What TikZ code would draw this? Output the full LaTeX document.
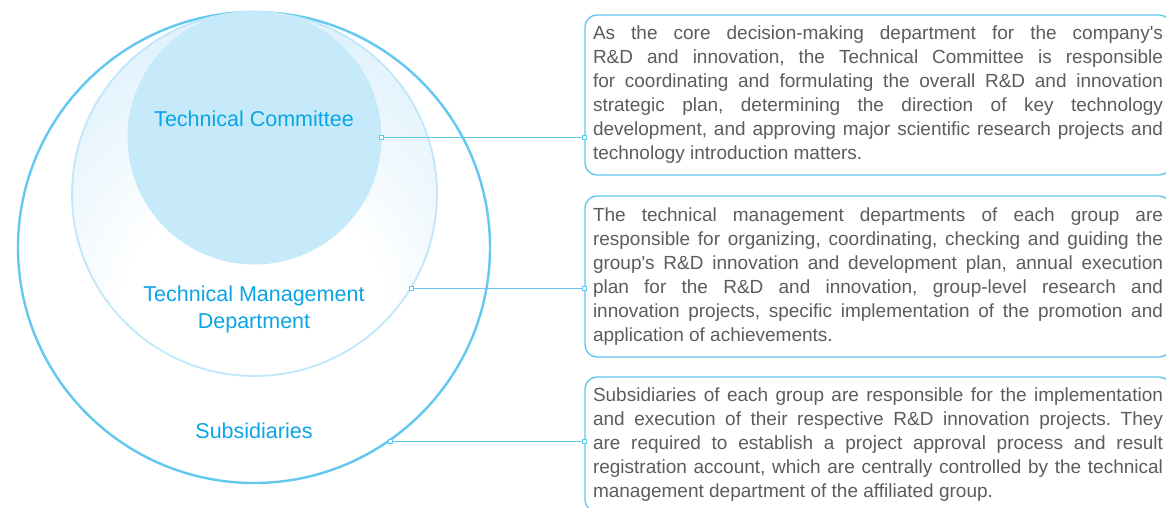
\documentclass[tikz,border=0pt]{standalone}
\usepackage{fontspec}
\setmainfont{Liberation Sans}[Ligatures=TeXOff]
\usetikzlibrary{shapes.geometric,positioning}
\definecolor{ringblue}{RGB}{98,200,240}
\definecolor{paleblue}{RGB}{192,231,250}
\definecolor{coreblue}{RGB}{198,234,249}
\definecolor{glowblue}{RGB}{214,237,251}
\definecolor{labelblue}{RGB}{10,165,230}
\definecolor{bodygray}{RGB}{92,92,92}
\pgfdeclareradialshading{tmdglow}{\pgfpoint{0bp}{-22bp}}{color(0bp)=(white);color(18bp)=(white);color(44bp)=(glowblue);color(90bp)=(glowblue)}
\frenchspacing

\begin{document}
\begin{tikzpicture}[x=1pt,y=1pt,
    ring/.style={ellipse, inner sep=0pt},
    lbl/.style={text=labelblue, font=\fontsize{21.5}{27}\selectfont, align=center},
    descbox/.style={draw=ringblue, line width=1.4pt, rounded corners=12pt, text=bodygray,
      font=\fontsize{19}{24}\selectfont, text width=570pt, align=justify, inner xsep=8pt},
    link/.style={ringblue, line width=0.9pt},
    pin/.style={draw=ringblue, fill=white, line width=0.6pt, minimum size=4pt, inner sep=0pt}]
  \useasboundingbox (0,0) rectangle (1166,508);
  \clip (0,0) rectangle (1166,508);

  % nested rings
  \node[ring, draw=ringblue, line width=2.4pt, fill=white, minimum width=472pt, minimum height=471pt] (sub) at (254,260.5) {};
  \node[ring, draw=paleblue, line width=1.8pt, shade, shading=tmdglow, minimum width=365pt, minimum height=364pt] (tmd) at (254.5,314) {};
  \node[ring, fill=coreblue, minimum size=254pt] (tc) at (254.5,370.5) {};

  \node[lbl] (tclbl) at (254,389) {Technical Committee};
  \node[lbl] (tmdlbl) at (254,198.5) {Technical Management\\Department};
  \node[lbl] (sublbl) at (254,77) {Subsidiaries};

  % descriptions
  \node[descbox, minimum height=160pt] (tcbox) at (878,413) {As the core decision-making department for the company's\linebreak
    R\&D and innovation, the Technical Committee is responsible\linebreak
    for coordinating and formulating the overall R\&D and innovation\linebreak
    strategic plan, determining the direction of key technology\linebreak
    development, and approving major scientific research projects and\linebreak
    technology introduction matters.};
  \node[descbox, minimum height=161pt] (tmdbox) at (878,231.5) {The technical management departments of each group are\linebreak
    responsible for organizing, coordinating, checking and guiding the\linebreak
    group's R\&D innovation and development plan, annual execution\linebreak
    plan for the R\&D and innovation, group-level research and\linebreak
    innovation projects, specific implementation of the promotion and\linebreak
    application of achievements.};
  \node[descbox, minimum height=135pt] (subbox) at (878,63.5) {Subsidiaries of each group are responsible for the implementation\linebreak
    and execution of their respective R\&D innovation projects. They\linebreak
    are required to establish a project approval process and result\linebreak
    registration account, which are centrally controlled by the technical\linebreak
    management department of the affiliated group.};

  % connectors
  \node[pin] (tcpinA) at (tc.east) {};
  \node[pin] (tcpinB) at (tc.east -| tcbox.west) {};
  \node[pin] (tmdpinA) at (tmd.-31) {};
  \node[pin] (tmdpinB) at (tmd.-31 -| tmdbox.west) {};
  \node[pin] (subpinA) at (sub.-55.6) {};
  \node[pin] (subpinB) at (sub.-55.6 -| subbox.west) {};
  \draw[link] (tcpinA) -- (tcpinB);
  \draw[link] (tmdpinA) -- (tmdpinB);
  \draw[link] (subpinA) -- (subpinB);
\end{tikzpicture}
\end{document}
